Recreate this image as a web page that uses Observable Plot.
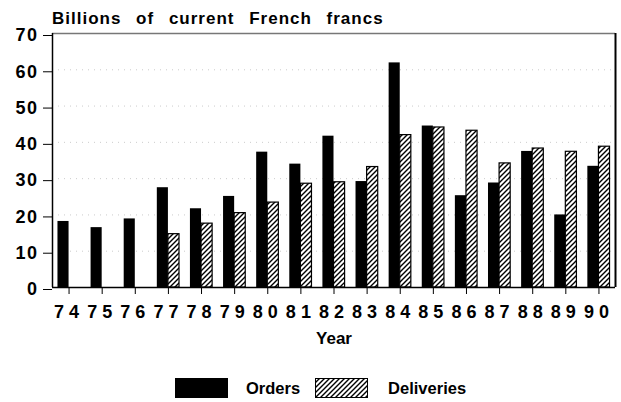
<!DOCTYPE html>
<html><head><meta charset="utf-8">
<script src="https://cdn.jsdelivr.net/npm/d3@7"></script>
<script src="https://cdn.jsdelivr.net/npm/@observablehq/plot@0.6"></script>
<style>
body{margin:0;background:#fff;font-family:"Liberation Sans",Arial,sans-serif;}
#title{position:relative;z-index:1;height:17px;padding:10px 0 0 52px;font-size:17px;line-height:17px;font-weight:bold;letter-spacing:1px;word-spacing:9px;white-space:nowrap;color:#000;}
#chart svg{display:block;font-family:"Liberation Sans",Arial,sans-serif;font-weight:bold;overflow:visible;background:transparent;}
g[aria-label="y-axis tick label"]{font-size:18px;letter-spacing:1.5px;}
g[aria-label="x-axis tick label"]{font-size:18px;letter-spacing:5px;}
g[aria-label="x-axis label"]{font-size:17px;}
#legend{height:28px;padding-top:17px;display:flex;align-items:center;padding-left:175px;font-weight:bold;font-size:16.5px;}
#legend .box{width:53px;height:20px;display:block;}
#legend .lab{margin-left:18px;}
</style>
</head><body>
<svg width="0" height="0" style="position:absolute">
  <defs>
    <pattern id="hatch" patternUnits="userSpaceOnUse" width="5" height="5">
      <rect width="5" height="5" fill="#fff"/>
      <path d="M-1,1 l2,-2 M0,5 l5,-5 M4,6 l2,-2" stroke="#000" stroke-width="1.4"/>
    </pattern>
  </defs>
</svg>
<div id="title">Billions of current French francs</div>
<div id="chart"></div>
<div id="legend">
  <svg class="box" viewBox="0 0 53 20"><rect width="53" height="20" fill="#000"/></svg>
  <span class="lab">Orders</span>
  <svg class="box" viewBox="0 0 53 20" style="margin-left:15px"><rect x="0.5" y="0.5" width="52" height="19" fill="url(#hatch)" stroke="#000" stroke-width="1"/></svg>
  <span class="lab" style="margin-left:20px">Deliveries</span>
</div>
<script>
const years = [74,75,76,77,78,79,80,81,82,83,84,85,86,87,88,89,90];
const orders = [18.2,16.5,18.9,27.5,21.7,25.1,37.3,34.0,41.7,29.2,61.9,44.5,25.3,28.8,37.5,20.0,33.4];
const deliveries = [null,null,null,14.7,17.6,20.5,23.4,28.6,29.0,33.2,42.0,44.1,43.2,34.2,38.3,37.4,38.8];
const yTicks = [0,10,20,30,40,50,60,70];

const barW = 0.335;
const data = years.map((y,i)=>({year:y, orders:orders[i], deliveries:deliveries[i]}));
const xMin = years[0]-0.5, xMax = years[years.length-1]+0.5;

const chart = Plot.plot({
  width: 621,
  height: 330,
  marginTop: 6,
  marginBottom: 70,
  marginLeft: 52,
  marginRight: 6,
  style: {background: "transparent", overflow: "visible"},
  x: {domain:[xMin,xMax], ticks: years, tickFormat: d=>String(d), tickSize: 7, tickPadding: 11, label: "Year", labelAnchor: "center", labelArrow: "none", labelOffset: 56},
  y: {domain:[0,70], ticks: yTicks, tickSize: 9, tickPadding: 5, label: null},
  marks: [
    Plot.gridY(yTicks.filter(t=>t>0 && t<70), {stroke:"#999", strokeOpacity:0.5, strokeDasharray:"1 5"}),
    Plot.rectY(data, {x1: d=>d.year-barW, x2: d=>d.year, y: "orders", fill:"#000"}),
    Plot.rectY(data.filter(d=>d.deliveries!=null), {x1: d=>d.year, x2: d=>d.year+barW, y: "deliveries", fill:"url(#hatch)", stroke:"#000", strokeWidth:1.2}),
    Plot.ruleY([70], {stroke:"#777", strokeWidth:1.5}),
    Plot.ruleX([xMax], {stroke:"#000", strokeWidth:2}),
    Plot.ruleX([xMin], {stroke:"#000", strokeWidth:1.5}),
    Plot.ruleY([0], {stroke:"#000", strokeWidth:1.5}),
    Plot.axisY({ticks: yTicks, tickSize: 9, tickPadding: 5, dy: 2}),
    Plot.axisX({ticks: years, tickFormat: d=>String(d), tickSize: 7, tickPadding: 11, label: "Year", labelAnchor: "center", labelArrow: "none", labelOffset: 56})
  ]
});
document.getElementById("chart").appendChild(chart);
</script>
</body></html>
